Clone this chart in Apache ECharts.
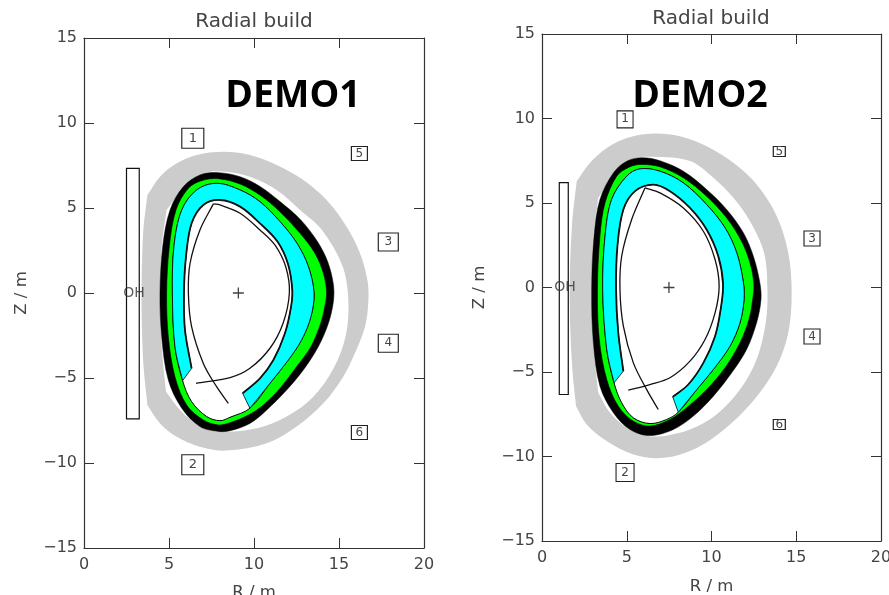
<!DOCTYPE html>
<html><head><meta charset="utf-8">
<style>html,body{margin:0;padding:0;background:#fff}#c{width:889px;height:595px}</style>
<script src="https://cdn.jsdelivr.net/npm/echarts@6/dist/echarts.min.js"></script>
</head><body><div id="c"></div>
<script>
// Axis ticks
const rTicks = [0,5,10,15,20];
const zTicks = [-15,-10,-5,0,5,10,15];
const chartTitle = 'Radial build';
const panelNames = ['DEMO1','DEMO2'];

// ---------- DEMO1 (R, Z in metres) ----------
const d1ShieldOuter = [[3.73,5.76],[3.73,5.76],[4.47,6.84],[5.45,7.63],[6.63,8.12],[8.2,8.31],[9.76,8.12],[11.33,7.53],[12.9,6.65],[14.27,5.47],[15.45,3.9],[16.24,2.33],[16.67,.76],[16.73,-.41],[16.53,-1.98],[15.84,-3.75],[15.25,-4.92],[14.08,-6.49],[12.51,-7.86],[10.75,-8.84],[8.39,-9.27],[6.82,-9.04],[5.45,-8.45],[4.47,-7.67],[3.73,-6.59],[3.73,-6.59],[3.49,-4.14],[3.39,-1.2],[3.39,.76],[3.49,3.71]];
const d1ShieldInner = [[4.86,4.88],[4.86,4.88],[5.94,6.25],[7.22,7.08],[8.2,7.14],[9.76,6.84],[11.33,6.06],[12.71,4.88],[14.0,3.7],[15.2,1.6],[15.55,-.41],[15.4,-2.5],[14.7,-4.4],[13.49,-6.1],[11.92,-7.27],[10.16,-7.96],[8.0,-8.16],[6.82,-7.86],[5.65,-6.88],[4.82,-5.8],[4.82,-5.8],[4.57,-3.16],[4.47,-.22],[4.57,2.73]];
const d1Coil = [[7.9,7.08],[9.18,6.84],[10.35,6.27],[11.53,5.38],[12.75,4.3],[13.75,3.0],[14.35,1.8],[14.67,.5],[14.67,-.5],[14.37,-1.8],[13.78,-3.16],[12.9,-4.53],[11.92,-5.71],[10.75,-6.88],[9.76,-7.67],[8.59,-8.1],[7.9,-8.14],[6.82,-7.86],[5.75,-6.78],[4.96,-5.12],[4.57,-2.57],[4.47,0],[4.63,2.73],[5.06,4.88],[5.84,6.25],[6.82,6.94]];
const d1Green = [[7.9,6.72],[9.18,6.41],[10.35,5.76],[11.53,4.78],[12.71,3.51],[13.59,2.33],[14.08,1.16],[14.27,0],[14.1,-1.1],[13.92,-1.8],[13.35,-3.16],[12.51,-4.33],[11.53,-5.61],[10.55,-6.59],[9.67,-7.18],[8.59,-7.63],[7.9,-7.76],[7.02,-7.47],[6.04,-6.59],[5.35,-4.92],[4.96,-2.57],[4.86,0],[5.02,2.73],[5.41,4.88],[6.14,6.16],[6.92,6.61]];
const d1Vessel = [[7.8,6.45],[9.18,6.06],[10.35,5.37],[11.53,4.2],[12.53,2.92],[13.2,1.55],[13.53,0],[13.35,-1.39],[12.8,-2.76],[12.02,-3.94],[10.94,-5.31],[9.76,-6.78],[8.59,-7.31],[8.0,-7.51],[7.22,-7.27],[6.33,-6.39],[5.8,-5.16],[5.35,-3.16],[5.2,0],[5.29,2.73],[5.75,4.88],[6.63,6.06]];
const d1Blanket = [[7.8,6.45],[9.18,6.06],[10.35,5.37],[11.53,4.2],[12.53,2.92],[13.2,1.55],[13.53,0],[13.35,-1.39],[12.8,-2.76],[12.02,-3.94],[10.94,-5.31],[9.76,-6.78],[9.76,-6.78],[9.33,-5.9],[9.33,-5.9],[10.35,-5.02],[11.14,-3.94],[11.82,-2.37],[12.18,-.8],[12.25,.2],[12.0,1.7],[11.4,3.0],[10.35,4.1],[9.18,5.08],[8.0,5.47],[7.02,5.18],[6.33,4.1],[6.0,2.14],[5.88,0],[5.94,-2.18],[6.33,-4.43],[6.33,-4.43],[5.8,-5.16],[5.8,-5.16],[5.35,-3.16],[5.2,0],[5.29,2.73],[5.75,4.88],[6.63,6.06]];
const d1Wall = [[9.33,-5.9],[10.35,-5.02],[11.14,-3.94],[11.82,-2.37],[12.18,-.8],[12.25,.2],[12.0,1.7],[11.4,3.0],[10.35,4.1],[9.18,5.08],[8.0,5.47],[7.02,5.18],[6.33,4.1],[6.0,2.14],[5.88,0],[5.94,-2.18],[6.33,-4.43]];
const d1SepRight = [[6.59,-5.31],[8.59,-4.98],[9.76,-4.43],[10.94,-3.25],[11.71,-1.78],[12.08,0],[11.88,1.5],[11.25,2.8],[10.35,3.71],[9.18,4.69],[8.0,5.18],[7.61,5.24]];
const d1SepLeft = [[7.61,5.24],[6.82,3.71],[6.24,1.75],[6.14,0],[6.33,-1.98],[7.02,-4.14],[7.8,-5.51],[8.49,-6.49]];
const d1Solenoid = [[2.5,7.33],[3.25,7.33],[3.25,-7.4],[2.5,-7.4]];
const d1SolenoidLabel = [[2.94,0]];
const d1Axis = [[9.08,0]];
const d1Coils = [[6.4,9.1,'1'],[6.4,-10.1,'2'],[17.9,3.0,'3'],[17.9,-2.95,'4'],[16.2,8.2,'5'],[16.2,-8.2,'6']];

// ---------- DEMO2 (R, Z in metres) ----------
const d2ShieldOuter = [[2.05,6.29],[2.05,6.29],[2.83,7.38],[3.82,8.26],[5.0,8.85],[6.57,9.11],[8.14,8.95],[9.72,8.36],[11.29,7.38],[12.67,6.09],[13.85,4.22],[14.53,2.05],[14.73,-.32],[14.53,-2.68],[13.85,-4.65],[12.67,-6.45],[11.09,-8.1],[9.13,-9.49],[7.16,-10.08],[5.39,-9.88],[3.82,-9.09],[2.64,-8.1],[2.01,-7.02],[2.01,-7.02],[1.79,-4.85],[1.65,-1.89],[1.65,1.06],[1.79,4.02]];
const d2ShieldInner = [[3.32,5.3],[3.32,5.3],[4.31,6.78],[5.39,7.61],[6.57,7.73],[8.73,7.48],[10.11,6.49],[11.29,5.31],[12.27,3.92],[13.1,2.05],[13.3,-.12],[13.2,-2.09],[12.66,-4.26],[11.68,-6.04],[10.3,-7.51],[8.73,-8.4],[7.4,-8.75],[6.37,-8.8],[5.19,-8.4],[4.01,-7.41],[3.32,-6.23],[3.32,-6.23],[3.03,-3.47],[2.93,-.12],[3.03,3.04]];
const d2Coil = [[5.9,7.68],[6.96,7.5],[8.34,6.88],[9.71,5.8],[10.89,4.62],[11.88,3.24],[12.47,1.85],[12.85,.3],[12.92,-.71],[12.66,-2.09],[12.07,-3.67],[11.19,-5.05],[10.11,-6.43],[8.93,-7.61],[7.75,-8.4],[6.37,-8.76],[5.19,-8.4],[4.21,-7.41],[3.42,-5.84],[3.03,-3.27],[2.93,-.12],[3.07,3.04],[3.42,5.21],[4.21,6.78],[5.0,7.47]];
const d2Green = [[5.78,7.28],[6.96,7.14],[8.34,6.49],[9.71,5.4],[10.89,4.12],[11.77,2.74],[12.27,1.46],[12.5,.2],[12.43,-.71],[12.21,-1.89],[11.68,-3.27],[10.8,-4.75],[9.71,-6.04],[8.53,-7.12],[7.55,-7.81],[6.37,-8.2],[5.39,-7.91],[4.5,-7.02],[3.82,-5.44],[3.38,-3.08],[3.27,-.12],[3.42,3.04],[3.72,5.01],[4.41,6.59],[5.1,7.1]];
const d2Vessel = [[5.78,7.02],[6.96,6.88],[8.34,6.19],[9.71,4.91],[10.8,3.53],[11.49,2.05],[11.88,.3],[11.92,-.71],[11.68,-2.09],[11.09,-3.47],[10.11,-4.85],[9.13,-6.04],[8.04,-7.38],[7.35,-7.81],[6.37,-8.05],[5.39,-7.71],[4.7,-6.82],[4.25,-5.64],[3.82,-3.67],[3.58,-.12],[3.72,3.04],[4.11,5.21],[5.0,6.59]];
const d2Blanket = [[5.78,7.02],[6.96,6.88],[8.34,6.19],[9.71,4.91],[10.8,3.53],[11.49,2.05],[11.88,.3],[11.92,-.71],[11.68,-2.09],[11.09,-3.47],[10.11,-4.85],[9.13,-6.04],[8.04,-7.38],[8.04,-7.38],[7.71,-6.47],[7.71,-6.47],[8.63,-5.74],[9.52,-4.46],[10.21,-2.88],[10.54,-1.3],[10.68,.2],[10.4,1.85],[9.71,3.43],[8.73,4.71],[7.55,5.7],[6.57,6.09],[5.49,5.7],[4.8,4.61],[4.45,2.45],[4.37,-.12],[4.5,-2.68],[4.8,-4.95],[4.8,-4.95],[4.25,-5.64],[4.25,-5.64],[3.82,-3.67],[3.58,-.12],[3.72,3.04],[4.11,5.21],[5.0,6.59]];
const d2Wall = [[7.71,-6.47],[8.63,-5.74],[9.52,-4.46],[10.21,-2.88],[10.54,-1.3],[10.68,.2],[10.4,1.85],[9.71,3.43],[8.73,4.71],[7.55,5.7],[6.57,6.09],[5.49,5.7],[4.8,4.61],[4.45,2.45],[4.37,-.12],[4.5,-2.68],[4.8,-4.95]];
const d2SepRight = [[5.09,-6.07],[6.37,-5.74],[7.55,-5.34],[8.73,-4.36],[9.62,-3.08],[10.21,-1.5],[10.45,.08],[10.21,1.66],[9.52,3.33],[8.34,4.71],[6.96,5.6],[6.08,5.9]];
const d2SepLeft = [[6.08,5.9],[5.29,4.02],[4.7,1.85],[4.6,-.12],[4.8,-2.29],[5.39,-4.46],[6.17,-6.03],[6.86,-7.22]];
const d2Solenoid = [[1.02,6.2],[1.55,6.2],[1.55,-6.33],[1.02,-6.33]];
const d2SolenoidLabel = [[1.36,0]];
const d2Axis = [[7.49,0]];
const d2Coils = [[4.9,9.95,'1'],[4.9,-10.95,'2'],[15.93,2.9,'3'],[15.93,-2.9,'4'],[14.0,8.05,'5'],[14.0,-8.1,'6']];

const d1BoxSizes = [[22,20],[22,20],[20,18],[20,18],[16,14],[16,14]];
const d2BoxSizes = [[16,17],[18,18],[16,15],[16,15],[12,10],[12,10]];

const TXT = '#444', LINE = '#333', FONT = '"DejaVu Sans"';
let zc = 3;
// Cubic path through the pixel points; a repeated point marks a sharp corner.
function pathThrough(px, closed){
  const n = px.length, unit = (a,b)=>{const dx=b[0]-a[0],dy=b[1]-a[1],l=Math.hypot(dx,dy)||1;return [dx/l,dy/l];};
  const at = i => closed ? px[(i+n)%n] : px[Math.max(0,Math.min(n-1,i))];
  const tan = i => unit(at(i-1), at(i+1));
  let d = 'M'+px[0][0]+' '+px[0][1];
  const last = closed ? n : n-1;
  for(let i=0;i<last;i++){
    const p=at(i), q=at(i+1), l=Math.hypot(q[0]-p[0],q[1]-p[1]);
    if(l<1e-6) continue;
    const t1=tan(i), t2=tan(i+1), k=l/3;
    d+='C'+(p[0]+t1[0]*k)+' '+(p[1]+t1[1]*k)+' '+(q[0]-t2[0]*k)+' '+(q[1]-t2[1]*k)+' '+q[0]+' '+q[1];
  }
  return d+(closed?'Z':'');
}
function smoothShape(pts, idx, fill, stroke, lw, closed){
  return {type:'custom', coordinateSystem:'cartesian2d', xAxisIndex:idx*2, yAxisIndex:idx*2, z:zc++,
    silent:true, clip:false, encode:{x:0,y:1}, data:pts,
    renderItem:(p,api)=> p.dataIndex!==0 ? null : {type:'path',
      shape:{pathData:pathThrough(pts.map(q=>api.coord(q)), closed)},
      style:{fill:fill, stroke:stroke, lineWidth:lw}}};
}
function rect(pts, idx){
  return {type:'custom', coordinateSystem:'cartesian2d', xAxisIndex:idx*2, yAxisIndex:idx*2, z:zc++,
    silent:true, clip:false, encode:{x:0,y:1}, data:pts,
    renderItem:(p,api)=> p.dataIndex!==0 ? null : {type:'polygon',
      shape:{points:pts.map(q=>api.coord(q))},
      style:{fill:'#fff', stroke:'#111', lineWidth:1.2}}};
}
function panel(idx, d){
  return [
    smoothShape(d.outer, idx, '#cccccc', null, 0, true),
    smoothShape(d.inner, idx, '#ffffff', null, 0, true),
    smoothShape(d.coil, idx, '#000000', '#000', 0.5, true),
    smoothShape(d.green, idx, '#00ff00', '#000', 0.6, true),
    smoothShape(d.vessel, idx, '#ffffff', '#000', 1, true),
    smoothShape(d.blanket, idx, '#00ffff', '#000', 0.8, true),
    smoothShape(d.wall, idx, 'none', '#111', 1.8, false),
    smoothShape(d.sepR, idx, 'none', '#111', 1.3, false),
    smoothShape(d.sepL, idx, 'none', '#111', 1.3, false),
    rect(d.sol, idx),
    {type:'scatter', xAxisIndex:idx*2, yAxisIndex:idx*2, z:zc++, silent:true, data:d.solLabel, symbol:'circle', symbolSize:1,
      itemStyle:{color:'transparent'},
      label:{show:true, position:'inside', formatter:'OH', fontFamily:FONT, fontSize:14, color:'#333'}},
    {type:'scatter', xAxisIndex:idx*2, yAxisIndex:idx*2, z:zc++, silent:true, data:d.axis,
      symbol:'path://M50 0V100M0 50H100', symbolSize:11,
      itemStyle:{color:'none', borderColor:'#111', borderWidth:1.3}},
    {type:'scatter', xAxisIndex:idx*2, yAxisIndex:idx*2, z:zc++, silent:true, encode:{x:0,y:1},
      data:d.coils.map((c,i)=>({value:c, symbolSize:d.sizes[i],
        label:{fontSize:Math.max(12, d.sizes[i][1]-7)}})), symbol:'rect',
      itemStyle:{color:'#fff', borderColor:'#222', borderWidth:1.1, opacity:1},
      label:{show:true, position:'inside', formatter:p=>p.value[2], fontFamily:FONT, color:TXT}}
  ];
}
function xAxes(g, gap){
  const base={type:'value', gridIndex:g, min:rTicks[0], max:rTicks[rTicks.length-1], interval:rTicks[1]-rTicks[0],
    splitLine:{show:false}, axisLine:{onZero:false, lineStyle:{color:LINE, width:1.2}},
    axisTick:{inside:true, length:10, lineStyle:{color:LINE, width:1}}};
  return [
    {...base, position:'bottom', name:'R / m', nameLocation:'middle', nameGap:gap,
      nameTextStyle:{fontFamily:FONT, fontSize:16.5, color:TXT},
      axisLabel:{fontFamily:FONT, fontSize:16, color:TXT, margin:9, showMinLabel:true, showMaxLabel:true, hideOverlap:false}},
    {...base, position:'top', axisLabel:{show:false}}
  ];
}
function yAxes(g){
  const base={type:'value', gridIndex:g, min:zTicks[0], max:zTicks[zTicks.length-1], interval:zTicks[1]-zTicks[0],
    splitLine:{show:false}, axisLine:{onZero:false, lineStyle:{color:LINE, width:1.2}},
    axisTick:{inside:true, length:10, lineStyle:{color:LINE, width:1}}};
  return [
    {...base, position:'left', name:'Z / m', nameLocation:'middle', nameGap:54, nameRotate:90,
      nameTextStyle:{fontFamily:FONT, fontSize:16.5, color:TXT},
      axisLabel:{fontFamily:FONT, fontSize:16, color:TXT, margin:7, showMinLabel:true, showMaxLabel:true,
        formatter:v=>String(v).replace('-','\u2212')}},
    {...base, position:'right', axisLabel:{show:false}}
  ];
}
const titleStyle = {fontFamily:FONT, fontSize:20, fontWeight:'normal', color:TXT};
const bigStyle = {fontFamily:'"Open Sans"', fontSize:37.5, fontWeight:'bold', color:'#000'};
const option = {
  backgroundColor:'#fff', animation:false,
  title:[
    {text:chartTitle, left:254, top:12, padding:0, textAlign:'center', textStyle:titleStyle},
    {text:chartTitle, left:711, top:9, padding:0, textAlign:'center', textStyle:titleStyle},
    {text:panelNames[0], left:293, top:77, padding:0, textAlign:'center', textStyle:bigStyle},
    {text:panelNames[1], left:700, top:77, padding:0, textAlign:'center', textStyle:bigStyle}
  ],
  grid:[{left:84, top:38, width:340, height:510, outerBoundsMode:'none'},
        {left:542, top:34, width:339, height:507, outerBoundsMode:'none'}],
  xAxis:[...xAxes(0,36), ...xAxes(1,37)],
  yAxis:[...yAxes(0), ...yAxes(1)],
  series:[
    ...panel(0,{outer:d1ShieldOuter,inner:d1ShieldInner,coil:d1Coil,green:d1Green,vessel:d1Vessel,blanket:d1Blanket,wall:d1Wall,sepR:d1SepRight,sepL:d1SepLeft,sol:d1Solenoid,solLabel:d1SolenoidLabel,axis:d1Axis,coils:d1Coils,sizes:d1BoxSizes}),
    ...panel(1,{outer:d2ShieldOuter,inner:d2ShieldInner,coil:d2Coil,green:d2Green,vessel:d2Vessel,blanket:d2Blanket,wall:d2Wall,sepR:d2SepRight,sepL:d2SepLeft,sol:d2Solenoid,solLabel:d2SolenoidLabel,axis:d2Axis,coils:d2Coils,sizes:d2BoxSizes})
  ]
};
echarts.init(document.getElementById('c'),null,{renderer:'canvas'}).setOption(option);
</script></body></html>
